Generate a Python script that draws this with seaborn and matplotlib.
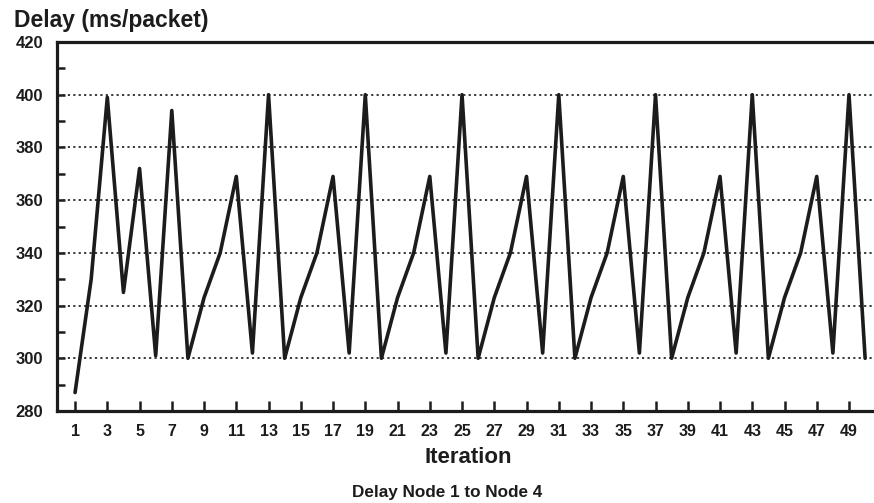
import matplotlib
matplotlib.use("Agg")
import matplotlib.pyplot as plt
import seaborn as sns
import pandas as pd
import numpy as np

# Measured delay per iteration (ms/packet), node 1 -> node 4
iterations = list(range(1, 51))
delay = [287, 330, 399, 325, 372, 301, 394, 300,
         323, 340, 369, 302, 400, 300,
         323, 340, 369, 302, 400, 300,
         323, 340, 369, 302, 400, 300,
         323, 340, 369, 302, 400, 300,
         323, 340, 369, 302, 400, 300,
         323, 340, 369, 302, 400, 300,
         323, 340, 369, 302, 400, 300]

y_major = [280, 300, 320, 340, 360, 380, 400, 420]
y_minor = [290, 310, 330, 350, 370, 390, 410]
x_ticks = list(range(1, 50, 2))
grid_levels = [300, 320, 340, 360, 380, 400]

sns.set_style("white")
plt.rcParams["font.family"] = ["Liberation Sans", "DejaVu Sans"]
plt.rcParams["font.weight"] = "bold"

df = pd.DataFrame({"Iteration": iterations, "Delay": delay})

fig = plt.figure(figsize=(8.74, 5.03), dpi=100)
ax = fig.add_axes([57 / 874, 92 / 503, (874 - 57) / 874, 369 / 503])

for g in grid_levels:
    ax.axhline(g, color="#2a2a2a", lw=1.3, ls=(0, (1.2, 1.8)), zorder=1)

sns.lineplot(data=df, x="Iteration", y="Delay", ax=ax, color="#1c1c1c",
             lw=2.6, zorder=3)

ax.set_xlim(-0.12, 50.55)
ax.set_ylim(280, 420)
ax.set_xticks(x_ticks)
ax.set_xticklabels([str(t) for t in x_ticks], fontsize=11.5, fontweight="bold")
ax.set_yticks(y_major)
ax.set_yticklabels([str(t) for t in y_major], fontsize=12, fontweight="bold")
ax.set_yticks(y_minor, minor=True)

ax.tick_params(axis="x", which="major", direction="in", length=7, width=1.8,
               pad=9, colors="#1c1c1c", labelcolor="#1c1c1c", bottom=True)
ax.tick_params(axis="y", which="major", direction="in", length=6, width=1.8,
               pad=10, colors="#1c1c1c", labelcolor="#1c1c1c", left=True)
ax.tick_params(axis="y", which="minor", direction="in", length=6, width=1.8,
               colors="#1c1c1c", left=True)

for side in ["top", "left", "bottom"]:
    ax.spines[side].set_visible(True)
    ax.spines[side].set_linewidth(2.3)
    ax.spines[side].set_color("#1c1c1c")
ax.spines["right"].set_visible(False)

ax.set_xlabel("")
ax.set_ylabel("")

fig.text(14 / 874, 1 - 27 / 503, "Delay (ms/packet)", fontsize=16.5,
         fontweight="bold", ha="left", va="baseline", color="#1c1c1c")
fig.text(468 / 874, 1 - 463 / 503, "Iteration", fontsize=16,
         fontweight="bold", ha="center", va="baseline", color="#1c1c1c")
fig.text(447 / 874, 1 - 496.5 / 503, "Delay Node 1 to Node 4", fontsize=12.3,
         fontweight="bold", ha="center", va="baseline", color="#1c1c1c")

fig.savefig("out.png", dpi=100, facecolor="white")
